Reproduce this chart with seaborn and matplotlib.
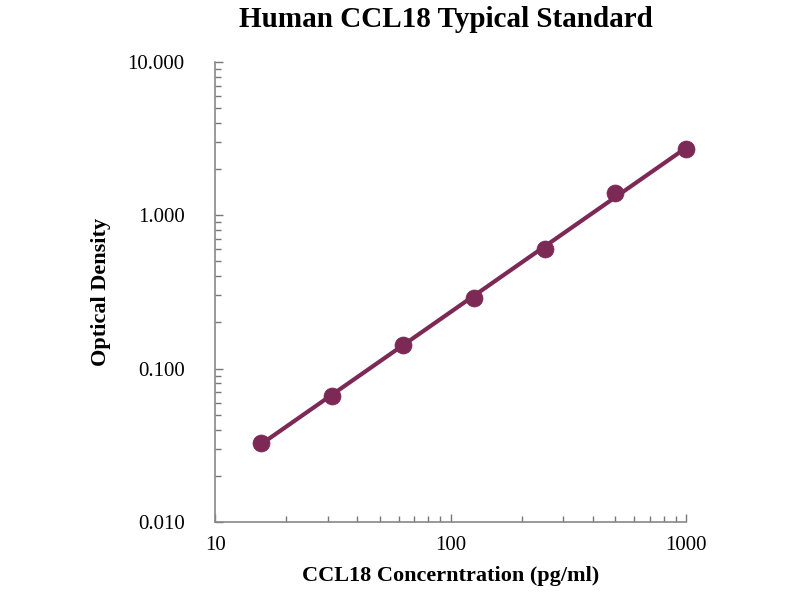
import numpy as np
import pandas as pd
import matplotlib
matplotlib.use("Agg")
import matplotlib.pyplot as plt
import seaborn as sns
from matplotlib.ticker import FixedLocator, FixedFormatter, LogLocator, NullFormatter

# standard curve values
conc = [15.6, 31.25, 62.5, 125, 250, 500, 1000]
od = [0.0327, 0.0664, 0.143, 0.289, 0.604, 1.40, 2.71]
x_ticks = [10, 100, 1000]
x_labels = ["10", "100", "1000"]
y_ticks = [0.01, 0.1, 1, 10]
y_labels = ["0.010", "0.100", "1.000", "10.000"]

df = pd.DataFrame({"conc": conc, "od": od})

sns.set_style("white")
plt.rcParams["font.family"] = ["Liberation Serif", "DejaVu Serif"]
plt.rcParams["text.color"] = "black"
plt.rcParams["axes.labelcolor"] = "black"

fig = plt.figure(figsize=(8, 6), dpi=100)
ax = fig.add_axes([0.269, 0.13, 0.589, 0.767])

color = "#7d2956"

# power-law fit through the standards
slope, intercept = np.polyfit(np.log10(df["conc"]), np.log10(df["od"]), 1)
xf = np.array([df["conc"].min(), df["conc"].max()])
fit = pd.DataFrame({"conc": xf, "od": 10 ** (intercept + slope * np.log10(xf))})
sns.lineplot(data=fit, x="conc", y="od", ax=ax, color=color, linewidth=3)
sns.scatterplot(data=df, x="conc", y="od", ax=ax, color=color, s=150,
                edgecolor=color, linewidth=0.5, zorder=3, clip_on=False)

ax.set_xscale("log")
ax.set_yscale("log")
ax.set_xlim(10, 1000)
ax.set_ylim(0.01, 10)

ax.xaxis.set_major_locator(FixedLocator(x_ticks))
ax.xaxis.set_major_formatter(FixedFormatter(x_labels))
ax.yaxis.set_major_locator(FixedLocator(y_ticks))
ax.yaxis.set_major_formatter(FixedFormatter(y_labels))
ax.xaxis.set_minor_locator(LogLocator(base=10, subs=np.arange(2, 10)))
ax.yaxis.set_minor_locator(LogLocator(base=10, subs=np.arange(2, 10)))
ax.xaxis.set_minor_formatter(NullFormatter())
ax.yaxis.set_minor_formatter(NullFormatter())

ax.tick_params(axis="both", which="both", direction="in", color="#777777",
               labelcolor="black", labelsize=15, pad=22, bottom=True, left=True)
ax.tick_params(axis="both", which="major", length=6, width=1)
ax.tick_params(axis="both", which="minor", length=4, width=1)
ax.tick_params(axis="x", pad=10)

for side in ["top", "right"]:
    ax.spines[side].set_visible(False)
for side in ["left", "bottom"]:
    ax.spines[side].set_color("#888888")
    ax.spines[side].set_linewidth(1.2)

ax.set_xlabel("CCL18 Concerntration (pg/ml)", fontsize=16, fontweight="bold", labelpad=8)
ax.set_ylabel("Optical Density", fontsize=16, fontweight="bold", labelpad=12)
fig.suptitle("Human CCL18 Typical Standard", x=0.557, y=0.99, fontsize=21, fontweight="bold")

fig.savefig("out.png", dpi=100)
